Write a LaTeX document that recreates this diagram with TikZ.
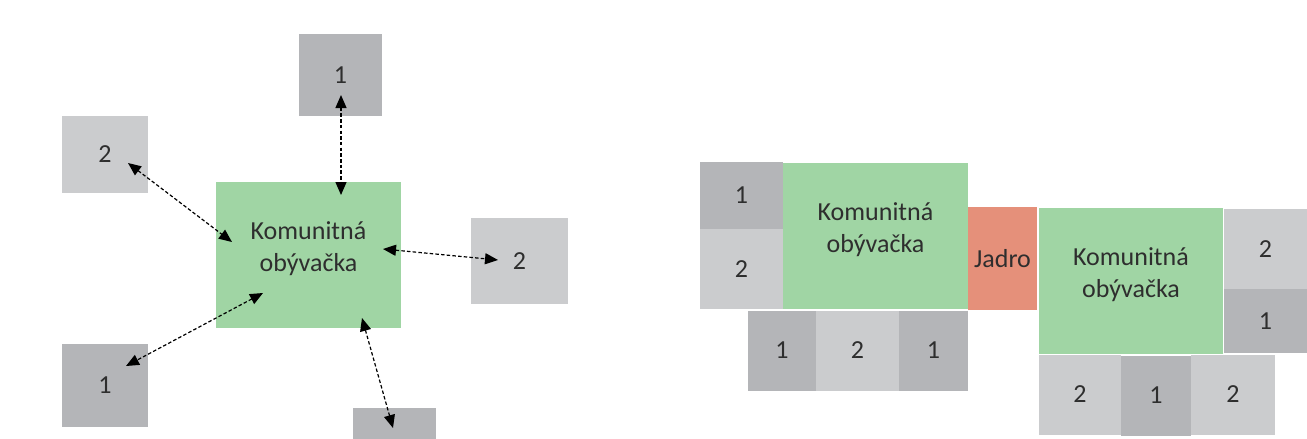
\documentclass[tikz,border=0pt]{standalone}
\usepackage{fontspec}
\setmainfont{Carlito}
\usetikzlibrary{arrows.meta}
\definecolor{dk}{HTML}{B4B5B8}
\definecolor{lt}{HTML}{CBCCCE}
\definecolor{grn}{HTML}{A0D5A4}
\definecolor{jad}{HTML}{E5907A}
\definecolor{txt}{HTML}{2E2E2E}
\begin{document}
\begin{tikzpicture}[x=1pt,y=-1pt,
  every node/.style={font=\fontsize{26}{32}\selectfont, text=txt},
  blk/.style={inner sep=0pt, outer sep=0pt, draw=none, anchor=center},
  dkbox/.style={blk, fill=dk},
  ltbox/.style={blk, fill=lt},
  grbox/.style={blk, fill=grn},
  jdbox/.style={blk, fill=jad},
  lbl/.style={align=center, inner sep=0pt},
  conn/.style={dash pattern=on 3.5pt off 2.2pt, line width=1.2pt,
    {Triangle[length=13pt,width=11pt]}-{Triangle[length=13pt,width=11pt]}}]
\useasboundingbox (0,0) rectangle (1307,439);
% ---------- left diagram ----------
\node[grbox, minimum width=185pt, minimum height=146pt] (g0) at (308.5,255) {};
\node[lbl] (g0t) at (308.5,249) {Komunitná\\obývačka};
\node[dkbox, minimum width=83pt, minimum height=82pt] (t1) at (340.5,75) {1};
\node[ltbox, minimum width=86pt, minimum height=77pt] (l2) at (105,154.5) {2};
\node[ltbox, minimum width=97pt, minimum height=86pt] (r2) at (519.5,261) {2};
\node[dkbox, minimum width=86pt, minimum height=83pt] (b1) at (105,385.5) {1};
\node[dkbox, minimum width=83pt, minimum height=31pt] (bb) at (394.5,423.5) {};
% arrow end points
\coordinate (t1e) at (341,95);
\coordinate (g0a) at (341,195);
\coordinate (l2e) at (128,163);
\coordinate (g0b) at (232,242);
\coordinate (g0c) at (383,249);
\coordinate (r2e) at (498,260);
\coordinate (g0d) at (263,293);
\coordinate (b1e) at (126,366);
\coordinate (g0e) at (362,318);
\coordinate (bbe) at (393,428);
\draw[conn] (t1e) -- (g0a);
\draw[conn] (l2e) -- (g0b);
\draw[conn] (g0c) -- (r2e);
\draw[conn] (g0d) -- (b1e);
\draw[conn] (g0e) -- (bbe);
% ---------- right diagram ----------
\node[dkbox, minimum width=83pt, minimum height=67pt] (a1) at (741.5,195.5) {1};
\node[ltbox, minimum width=83pt, minimum height=80pt] (a2) at (741.5,269) {2};
\node[grbox, minimum width=185pt, minimum height=146pt] (g1) at (875.5,236) {};
\node[lbl] (g1t) at (875.5,229.5) {Komunitná\\obývačka};
\node[dkbox, minimum width=68pt, minimum height=80pt] (c1) at (782,350.5) {1};
\node[ltbox, minimum width=83pt, minimum height=80pt] (c2) at (857.5,350.5) {2};
\node[dkbox, minimum width=69pt, minimum height=80pt] (c3) at (933.5,350.5) {1};
\node[jdbox, minimum width=69pt, minimum height=103pt] (jd) at (1002.5,258.5) {Jadro};
\node[grbox, minimum width=184pt, minimum height=146pt] (g2) at (1131,281) {};
\node[lbl] (g2t) at (1131,274.5) {Komunitná\\obývačka};
\node[ltbox, minimum width=83pt, minimum height=80pt] (e2) at (1265.5,249) {2};
\node[dkbox, minimum width=83pt, minimum height=64pt] (e1) at (1265.5,321) {1};
\node[ltbox, minimum width=82pt, minimum height=80pt] (d1) at (1080,394.5) {2};
\node[dkbox, minimum width=70pt, minimum height=80pt] (d2) at (1156,395.5) {1};
\node[ltbox, minimum width=84pt, minimum height=80pt] (d3) at (1233,394.5) {2};
\end{tikzpicture}
\end{document}
